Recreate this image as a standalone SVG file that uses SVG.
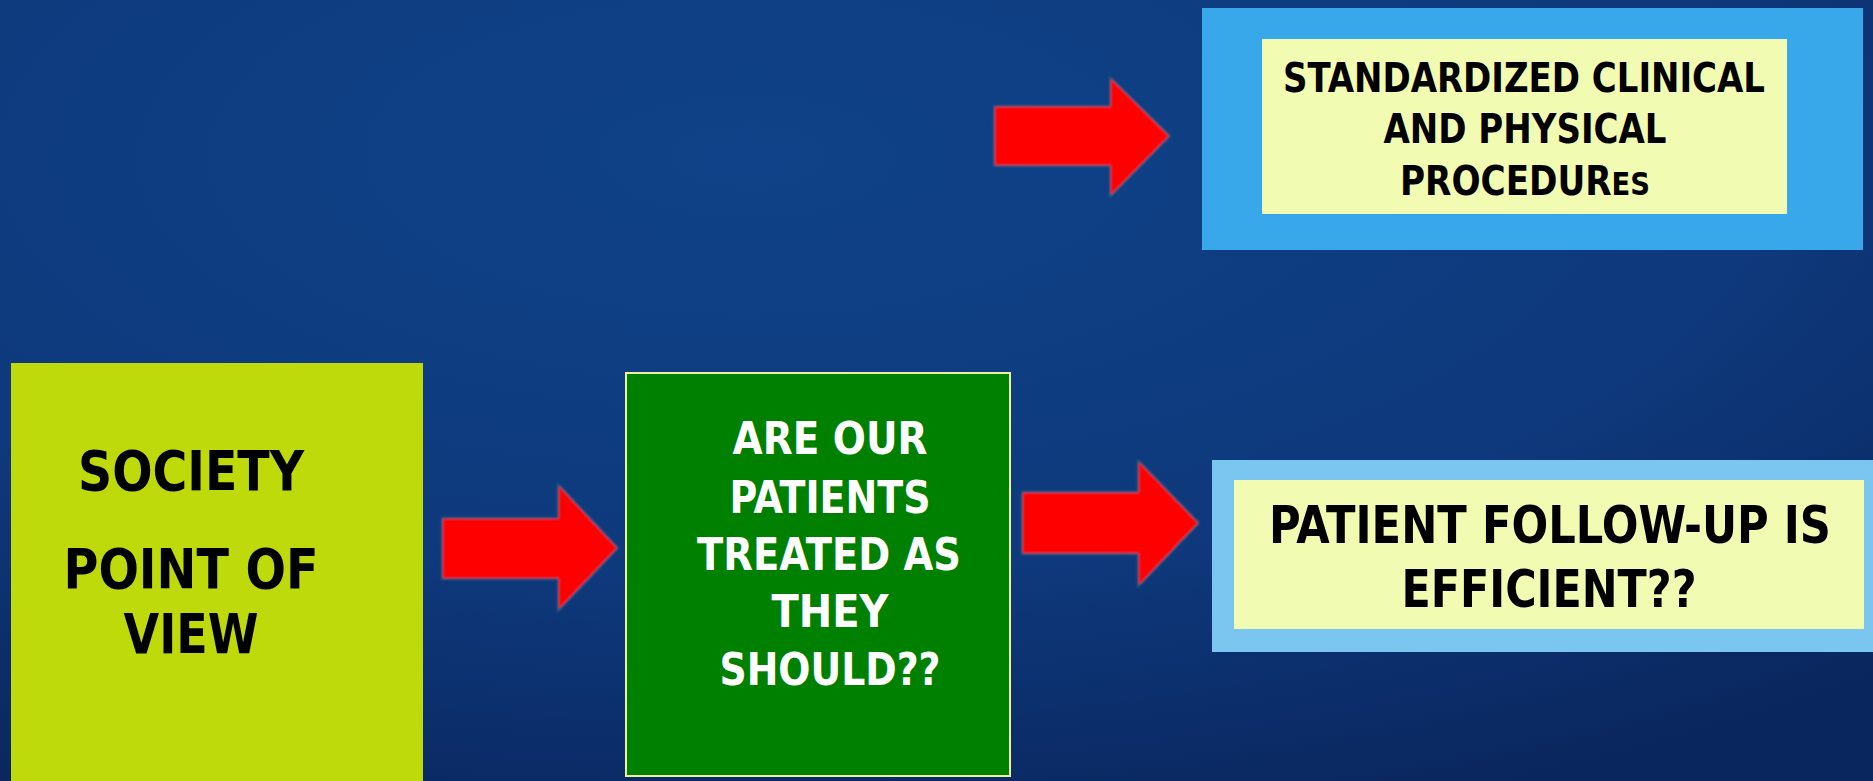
<svg xmlns="http://www.w3.org/2000/svg" width="1873" height="781" viewBox="0 0 1873 781">
<defs>
<radialGradient id="bg" cx="0.4" cy="0.2" r="0.9">
<stop offset="0" stop-color="#0f4288"/>
<stop offset="0.6" stop-color="#0e397c"/>
<stop offset="1" stop-color="#0a265e"/>
</radialGradient>
<filter id="soft" x="-5%" y="-5%" width="110%" height="110%">
<feGaussianBlur stdDeviation="0.8"/>
</filter>
</defs>
<style>
.t{font-family:"DejaVu Sans Condensed","DejaVu Sans","Liberation Sans",sans-serif;font-weight:bold;font-stretch:condensed;text-anchor:middle}
.dk{fill:#000}
.wh{fill:#fff}
.arrow{fill:#ff0000;stroke:#1e5f86;stroke-width:1.5;filter:url(#soft)}
</style>
<rect width="1873" height="781" fill="url(#bg)"/>
<g id="connectors">
<polygon class="arrow" points="994,106 1110,106 1110,77 1170,136 1110,197 1110,166 994,166"/>
<polygon class="arrow" points="442,518 558,518 558,484 618,548 558,611 558,579 442,579"/>
<polygon class="arrow" points="1022,492 1138,492 1138,460 1199,523 1138,587 1138,554 1022,554"/>
</g>
<g id="node-standardized">
<rect x="1202" y="8" width="661" height="242" fill="#38a8ea"/>
<rect x="1262" y="39" width="525" height="175" fill="#f2fbb2"/>
<text class="t dk" font-size="40" x="1524" y="92" textLength="482" lengthAdjust="spacingAndGlyphs">STANDARDIZED CLINICAL</text>
<text class="t dk" font-size="40" x="1525" y="143" textLength="283" lengthAdjust="spacingAndGlyphs">AND PHYSICAL</text>
<text class="t dk" font-size="40" x="1525" y="195" textLength="250" lengthAdjust="spacingAndGlyphs">PROCEDUR<tspan font-size="32">ES</tspan></text>
</g>
<g id="node-society">
<rect x="11" y="363" width="412" height="420" fill="#bfda0a"/>
<text class="t dk" font-size="56" x="191" y="490" textLength="226" lengthAdjust="spacingAndGlyphs">SOCIETY</text>
<text class="t dk" font-size="56" x="191" y="588" textLength="255" lengthAdjust="spacingAndGlyphs">POINT OF</text>
<text class="t dk" font-size="56" x="191" y="653" textLength="135" lengthAdjust="spacingAndGlyphs">VIEW</text>
</g>
<g id="node-treated">
<rect x="626" y="373" width="384" height="403" fill="#008000" stroke="#f0f0a0" stroke-width="2"/>
<text class="t wh" font-size="45" x="830" y="454" textLength="195" lengthAdjust="spacingAndGlyphs">ARE OUR</text>
<text class="t wh" font-size="45" x="830" y="513" textLength="201" lengthAdjust="spacingAndGlyphs">PATIENTS</text>
<text class="t wh" font-size="45" x="829" y="570" textLength="264" lengthAdjust="spacingAndGlyphs">TREATED AS</text>
<text class="t wh" font-size="45" x="830" y="627" textLength="117" lengthAdjust="spacingAndGlyphs">THEY</text>
<text class="t wh" font-size="45" x="830" y="685" textLength="221" lengthAdjust="spacingAndGlyphs">SHOULD??</text>
</g>
<g id="node-followup">
<rect x="1212" y="460" width="661" height="192" fill="#7bc6f0"/>
<rect x="1234" y="480" width="630" height="149" fill="#f2fbb2"/>
<text class="t dk" font-size="51" x="1550" y="543" textLength="562" lengthAdjust="spacingAndGlyphs">PATIENT FOLLOW-UP IS</text>
<text class="t dk" font-size="51" x="1549" y="607" textLength="295" lengthAdjust="spacingAndGlyphs">EFFICIENT??</text>
</g>
</svg>
